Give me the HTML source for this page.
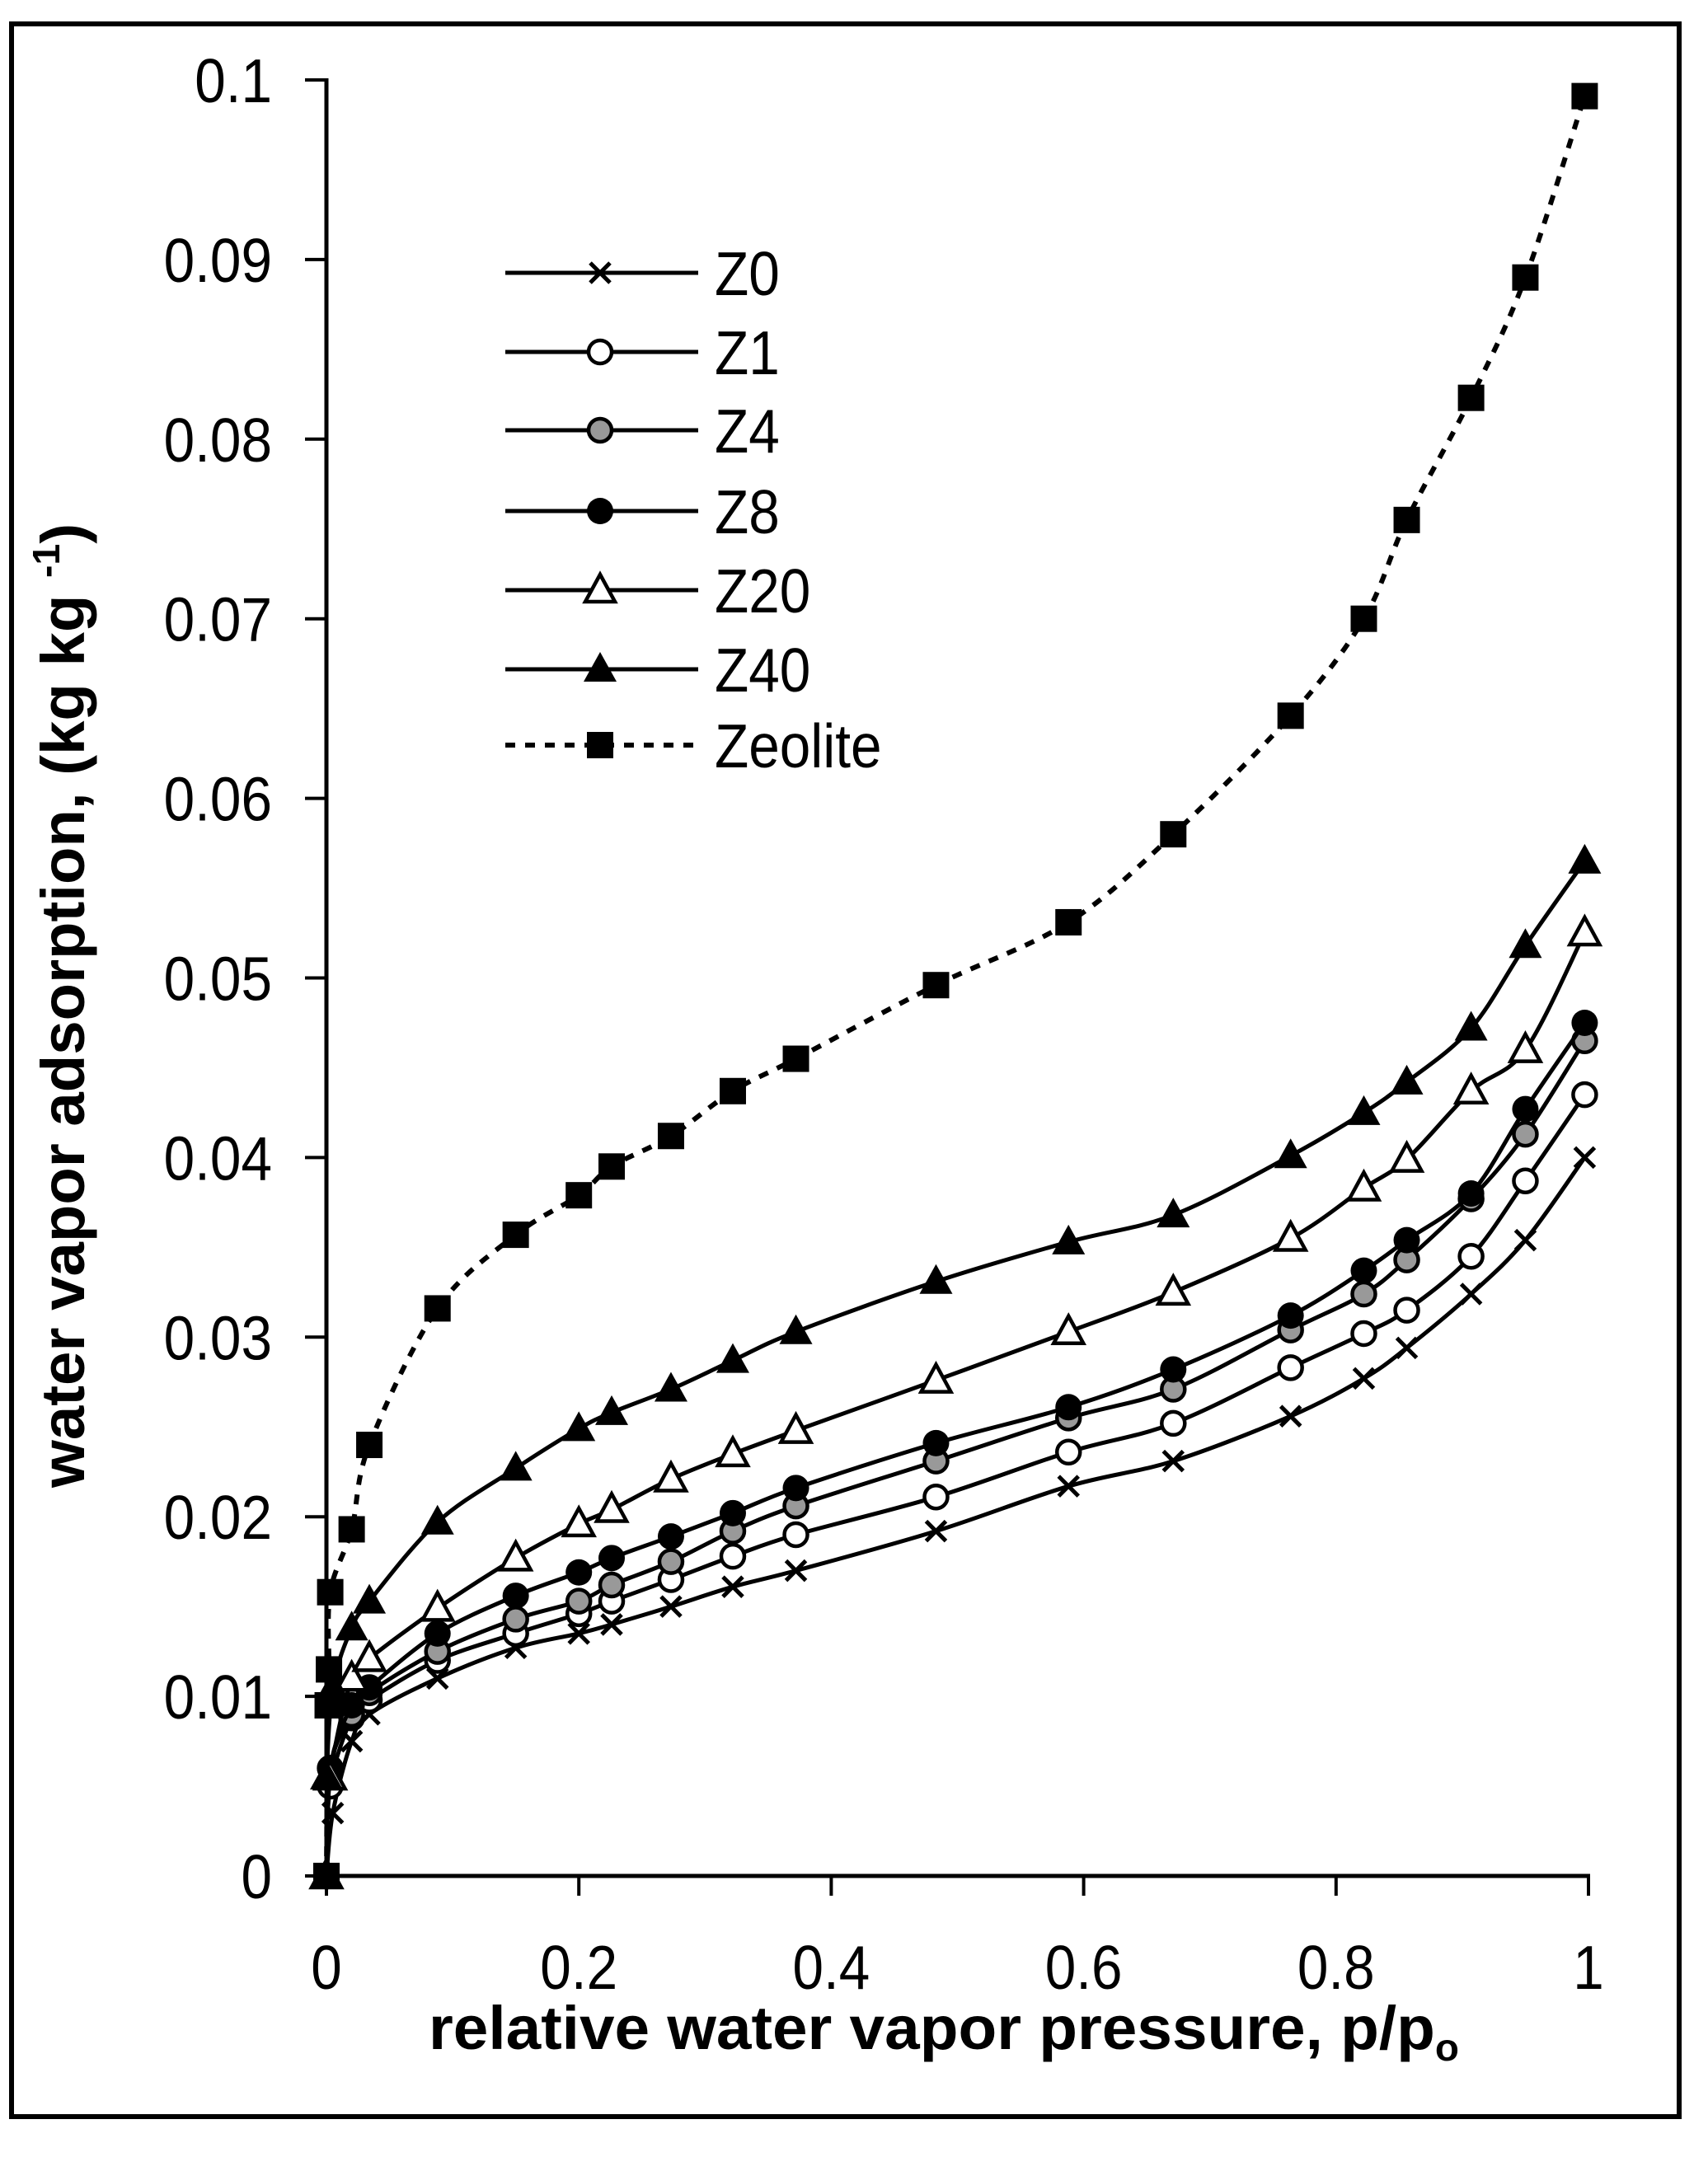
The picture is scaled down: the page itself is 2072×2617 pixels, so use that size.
<!DOCTYPE html>
<html><head><meta charset="utf-8"><style>html,body{margin:0;padding:0;background:#fff}svg{display:block}</style></head>
<body>
<svg id="s" width="2072" height="2617" viewBox="0 0 2072 2617" xmlns="http://www.w3.org/2000/svg" font-family="Liberation Sans, Arial, sans-serif">
<rect x="0" y="0" width="2072" height="2617" fill="#fff"/>
<rect x="14" y="29" width="2023" height="2539" fill="none" stroke="#000" stroke-width="6"/>
<g id="axes" stroke="#000" stroke-width="5" fill="none">
<line x1="396" y1="95" x2="396" y2="2277"/>
<line x1="394" y1="2276" x2="1929" y2="2276"/>
</g>
<g id="ticks" stroke="#000" stroke-width="4"></g>
<g id="lbl" font-size="75" fill="#000"></g>
<text x="1145" y="2486" font-size="74" font-weight="bold" text-anchor="middle" textLength="1250" lengthAdjust="spacingAndGlyphs">relative water vapor pressure, p/p<tspan font-size="46" dy="14">o</tspan></text>
<text transform="translate(102,1220) rotate(-90)" font-size="74" font-weight="bold" text-anchor="middle" textLength="1170" lengthAdjust="spacingAndGlyphs">water vapor adsorption, (kg kg <tspan font-size="46" dy="-30">-1</tspan><tspan dy="30">)</tspan></text>
<g id="series"></g>
<g id="legend"></g>
</svg>
<script>
var NS="http://www.w3.org/2000/svg";
function X(v){return 396+v*1531;}
function Y(v){return 2276-v*21790;}
function el(p,t,a,txt){var e=document.createElementNS(NS,t);for(var k in a)e.setAttribute(k,a[k]);if(txt!=null)e.textContent=txt;document.getElementById(p).appendChild(e);return e;}
function cond(e){try{var w=e.getComputedTextLength();e.setAttribute("textLength",(w*0.9).toFixed(1));e.setAttribute("lengthAdjust","spacingAndGlyphs");}catch(x){}}
for(var i=0;i<=10;i++){var y=Y(i/100);el("ticks","line",{x1:370,y1:y,x2:396,y2:y});
 cond(el("lbl","text",{x:330,y:y+27,"text-anchor":"end"},i==0?"0":(i==10?"0.1":"0.0"+i)));}
for(var i=0;i<=5;i++){var x=X(i*0.2);el("ticks","line",{x1:x,y1:2276,x2:x,y2:2300});
 cond(el("lbl","text",{x:x,y:2413,"text-anchor":"middle"},i==0?"0":(i==5?"1":(i*0.2).toFixed(1))));}
var xs=[0.003,0.02,0.034,0.088,0.15,0.2,0.226,0.273,0.322,0.372,0.483,0.588,0.671,0.764,0.822,0.856,0.907,0.95,0.997];
var S={
Z0:{m:"x",x:[0,0.005].concat(xs.slice(1)),y:[0,0.0035,0.0075,0.009,0.011,0.0127,0.0135,0.014,0.015,0.0161,0.017,0.0192,0.0217,0.0231,0.0256,0.0277,0.0294,0.0324,0.0354,0.04]},
Z1:{m:"o",x:[0].concat(xs),y:[0,0.005,0.0088,0.0098,0.012,0.0135,0.0146,0.0153,0.0165,0.0178,0.019,0.0211,0.0236,0.0252,0.0283,0.0302,0.0315,0.0345,0.0387,0.0435]},
Z4:{m:"g",x:[0].concat(xs),y:[0,0.006,0.009,0.0102,0.0125,0.0143,0.0153,0.0162,0.0175,0.0192,0.0206,0.0231,0.0255,0.0271,0.0304,0.0324,0.0343,0.0377,0.0413,0.0465]},
Z8:{m:"f",x:[0].concat(xs),y:[0,0.006,0.0095,0.0105,0.0135,0.0156,0.0169,0.0177,0.0189,0.0202,0.0216,0.0241,0.0261,0.0282,0.0312,0.0337,0.0354,0.038,0.0427,0.0475]},
Z20:{m:"t",x:[0].concat(xs),y:[0,0.0055,0.011,0.0121,0.0149,0.0177,0.0196,0.0204,0.0221,0.0235,0.0248,0.0276,0.0303,0.0325,0.0355,0.0383,0.0399,0.0437,0.046,0.0525]},
Z40:{m:"T",x:[0,0.005].concat(xs.slice(1)),y:[0.0055,0.0105,0.0138,0.0153,0.0197,0.0227,0.0249,0.0258,0.0271,0.0287,0.0303,0.0331,0.0353,0.0368,0.0401,0.0425,0.0442,0.0472,0.0518,0.0565]},
Zeo:{m:"s",d:1,x:[0,0.001,0.002,0.003,0.02,0.034,0.088,0.15,0.2,0.226,0.273,0.322,0.372,0.483,0.588,0.671,0.764,0.822,0.856,0.907,0.95,0.997],
 y:[0,0.0095,0.0115,0.0158,0.0193,0.024,0.0316,0.0357,0.0379,0.0395,0.0412,0.0437,0.0455,0.0496,0.0531,0.058,0.0646,0.07,0.0755,0.0823,0.089,0.0991]}
};
function marker(g,m,x,y){
 if(m=="x"){el(g,"path",{d:"M"+(x-12)+","+(y-12)+"L"+(x+12)+","+(y+12)+"M"+(x-12)+","+(y+12)+"L"+(x+12)+","+(y-12),stroke:"#000","stroke-width":5});}
 else if(m=="o")el(g,"circle",{cx:x,cy:y,r:14,fill:"#fff",stroke:"#000","stroke-width":4.5});
 else if(m=="g")el(g,"circle",{cx:x,cy:y,r:14,fill:"#999",stroke:"#000","stroke-width":4.5});
 else if(m=="f")el(g,"circle",{cx:x,cy:y,r:16,fill:"#000"});
 else if(m=="t")el(g,"path",{d:"M"+x+","+(y-19)+"L"+(x+18)+","+(y+14)+"L"+(x-18)+","+(y+14)+"Z",fill:"#fff",stroke:"#000","stroke-width":4.5});
 else if(m=="T")el(g,"path",{d:"M"+x+","+(y-21)+"L"+(x+20)+","+(y+15)+"L"+(x-20)+","+(y+15)+"Z",fill:"#000"});
 else if(m=="s")el(g,"rect",{x:x-16,y:y-16,width:32,height:32,fill:"#000"});
}
function smooth(p){var d="M"+p[0][0]+","+p[0][1];for(var i=0;i<p.length-1;i++){var a=p[i>0?i-1:0],b=p[i],c=p[i+1],e=p[i+2<p.length?i+2:i+1];
 var c1x=b[0]+(c[0]-a[0])/6,c1y=b[1]+(c[1]-a[1])/6,c2x=c[0]-(e[0]-b[0])/6,c2y=c[1]-(e[1]-b[1])/6;
 d+="C"+c1x.toFixed(1)+","+c1y.toFixed(1)+" "+c2x.toFixed(1)+","+c2y.toFixed(1)+" "+c[0].toFixed(1)+","+c[1].toFixed(1);}return d;}
for(var k in S){var s=S[k],p=[];for(var i=0;i<s.x.length;i++)p.push([X(s.x[i]),Y(s.y[i])]);
 var a={d:smooth(p),fill:"none",stroke:"#000","stroke-width":5};if(s.d){a["stroke-dasharray"]="12 12";a["stroke-width"]=6;}
 el("series","path",a);for(var i=0;i<p.length;i++)marker("series",s.m,p[i][0],p[i][1]);}
var L=[["Z0","x",331],["Z1","o",427],["Z4","g",522],["Z8","f",620],["Z20","t",716],["Z40","T",812],["Zeolite","s",904]];
L.forEach(function(r){var y=r[2];var a={x1:613,y1:y,x2:847,y2:y,stroke:"#000","stroke-width":5};if(r[1]=="s"){a["stroke-dasharray"]="12 12";a["stroke-width"]=6;}
 el("legend","line",a);marker("legend",r[1],728,y);cond(el("legend","text",{x:867,y:y+27,"font-size":75},r[0]));});
</script>
</body></html>
